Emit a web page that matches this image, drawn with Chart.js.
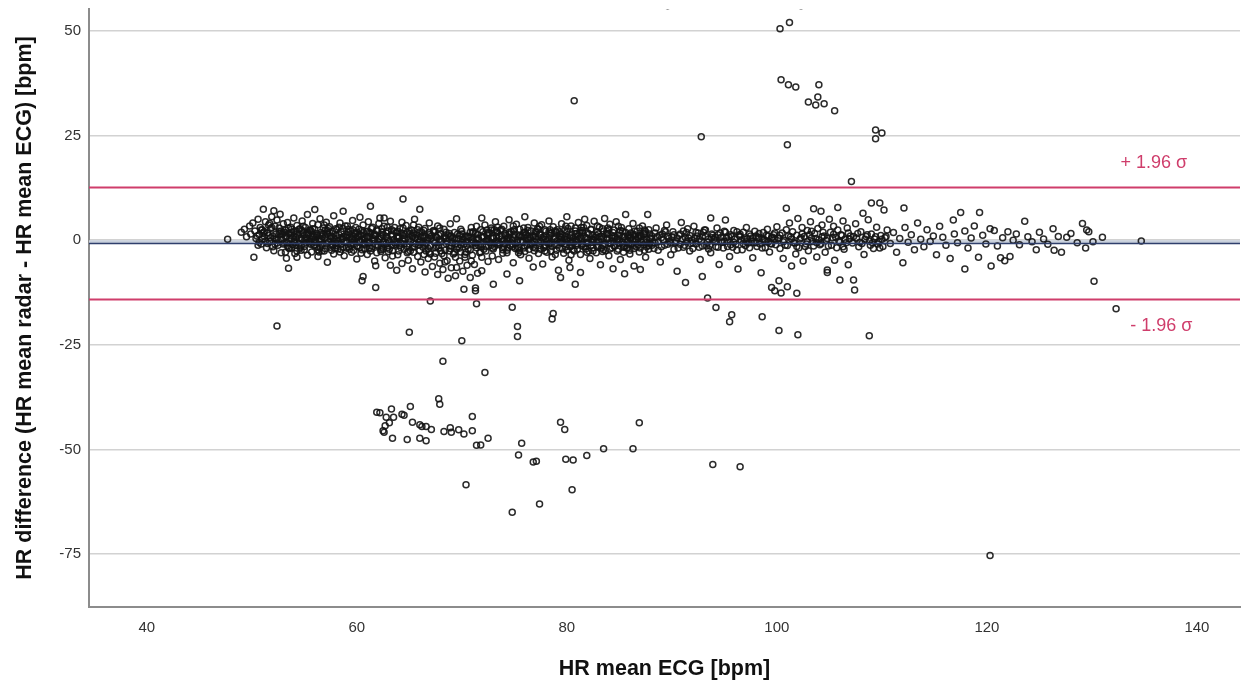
<!DOCTYPE html>
<html>
<head>
<meta charset="utf-8">
<title>Bland-Altman HR</title>
<script src="https://cdn.jsdelivr.net/npm/chart.js@4.4.1/dist/chart.umd.min.js"></script>
<style>
  html, body { margin: 0; padding: 0; background: #fff; }
  #plot { display: block; }
</style>
</head>
<body>
<canvas id="plot" width="1255" height="686"></canvas>
<script>
// axis ranges and ticks
const xMin = 34.5, xMax = 144.1;
const yMin = -87.6, yMax = 55.2;
const xTicks = [40, 60, 80, 100, 120, 140];
const yTicks = [-75, -50, -25, 0, 25, 50];

// agreement statistics
const meanDiff = -0.8;
const upperLimit = 12.6;
const lowerLimit = -14.2;
const limitLabels = ['+ 1.96 \u03c3', '- 1.96 \u03c3'];
const limitLabelX = [135.9, 136.6];

// measurements: [HR mean ECG, HR difference]
const bandLeft = [[47.7,0.2],[49.0,1.9],[49.3,2.6],[49.5,0.8],[49.8,3.4],[49.9,1.5],[50.1,4.1],[50.2,-4.1],[50.3,2.2],[50.4,0.4],[50.6,5.0],[50.7,1.3],[50.8,3.0],[50.9,-0.9],[51.0,2.5],[51.1,7.4],[51.2,0.9],[51.3,4.4],[51.4,-1.8],[51.5,1.7],[51.6,3.6],[51.7,-0.3],[51.8,2.8],[51.9,5.6],[52.0,1.0],[52.1,7.0],[52.1,-2.5],[52.2,3.3],[52.3,0.2],[52.4,4.8],[52.5,-1.2],[52.6,2.0],[52.7,6.2],[52.8,-3.0],[52.9,1.4],[53.0,3.9],
  [53.1,-0.6],[53.2,2.4],[53.3,-4.3],[53.3,0.9],[53.4,4.2],[53.5,-6.7],[53.5,1.6],[53.6,-2.0],[53.7,3.1],[53.8,0.3],[53.9,-1.1],[54.0,5.3],[54.0,2.0],[54.1,-3.2],[54.2,0.7],[54.3,-4.1],[54.3,3.5],[54.4,1.2],[54.5,-0.8],[54.6,2.7],[54.7,-2.4],[54.8,4.6],[54.8,0.1],[54.9,1.9],[55.0,-1.5],[55.1,3.0],[55.2,0.5],[55.3,-3.6],[55.3,6.1],[55.4,1.4],[55.5,-0.2],[55.6,2.3],[55.7,-2.8],[55.8,4.0],[55.8,0.8],[55.9,-1.3],[56.0,7.3],[56.0,2.6],[56.1,-0.5],[56.2,1.1],[56.3,-3.9],[56.3,3.7],[56.4,0.0],[56.5,5.1],[56.5,-1.9],[56.6,1.8],[56.7,-0.9],[56.8,2.9],[56.9,-2.6],[57.0,0.6],[57.1,4.3],[57.2,-5.3],[57.2,1.5],[57.3,-0.4],[57.4,3.2],[57.5,-1.7],[57.6,0.9],[57.7,2.1],[57.8,-3.3],[57.8,5.8],[57.9,0.2],[58.0,-0.7],[58.1,2.5],[58.2,-2.1],[58.3,1.3],[58.4,4.1],[58.5,-1.0],[58.6,0.4],[58.7,6.9],[58.7,2.8],[58.8,-3.7],[58.9,1.0],[59.0,-0.3],[59.1,3.4],[59.2,-1.6],[59.3,0.7],[59.4,2.2],[59.5,-2.9],[59.6,4.7],[59.6,0.1],[59.7,-0.9],[59.8,1.7],[59.9,3.0],[60.0,-4.5],[60.0,0.5],[60.1,-1.4],[60.2,2.6],[60.3,5.5],[60.3,-0.2],[60.4,1.2],[60.5,-9.7],[60.5,-2.3],[60.6,-8.7],[60.6,3.6],[60.7,0.3],[60.8,-1.1],[60.9,2.0],[61.0,-3.4],[61.1,4.4],[61.1,0.8],[61.2,-0.6],[61.3,8.1],[61.3,1.6],[61.4,-2.0],[61.5,3.1],[61.6,-0.1],[61.7,-5.0],[61.8,-11.3],[61.8,-6.1],[61.8,1.0],[61.9,2.4]];

const bandMid = [[62.0,-1.3],[62.1,4.0],[62.2,5.3],[62.2,0.4],[62.3,-2.7],[62.4,1.9],[62.5,-0.5],[62.6,5.3],[62.6,3.3],[62.7,-4.2],[62.8,0.9],[62.9,-1.8],[63.0,2.2],[63.1,-0.3],[63.2,-6.0],[63.2,4.5],[63.3,1.4],[63.4,-2.5],[63.5,0.1],[63.6,3.0],[63.7,-1.0],[63.8,-7.2],[63.8,1.8],[63.9,-3.5],[64.0,0.6],[64.1,2.7],[64.2,-0.8],[64.3,-5.6],[64.3,4.3],[64.4,9.8],[64.4,1.1],[64.5,-2.2],[64.6,0.2],[64.7,3.5],[64.8,-1.5],[64.9,-4.8],[65.0,1.6],[65.1,-0.4],[65.2,2.4],[65.3,-6.8],[65.3,0.8],[65.4,-2.9],[65.5,5.0],[65.6,-0.9],[65.7,1.3],[65.8,-3.9],[65.9,3.1],[66.0,7.4],[66.0,-0.2],[66.1,-5.2],[66.2,1.9],[66.3,-1.7],[66.4,0.5],[66.5,-7.6],[66.5,2.8],[66.6,-2.6],[66.7,0.0],[66.8,-4.4],[66.9,4.1],[67.0,-1.2],[67.1,1.0],[67.2,-6.3],[67.3,2.3],[67.4,-0.6],[67.5,-3.1],[67.6,0.7],[67.7,-8.2],[67.7,3.4],[67.8,-1.9],[67.9,-5.5],[68.0,1.5],[68.1,-0.3],[68.2,-7.0],[68.3,2.6],[68.4,-2.4],[68.5,0.4],[68.6,-4.9],[68.7,-9.1],[68.7,1.2],[68.8,-1.4],[68.9,3.9],[69.0,-6.6],[69.1,-0.7],[69.2,-3.3],[69.3,1.8],[69.4,-8.5],[69.5,5.1],[69.5,-6.5],[69.6,-1.6],[69.7,0.3],[69.8,-5.0],[69.9,-2.8],[70.0,2.1],[70.1,-7.4],[70.2,-11.7],[70.2,-0.9],[70.3,-4.1],[70.4,1.0],[70.5,-6.0],[70.6,-2.1],[70.7,0.6],[70.8,-8.9],[70.9,3.0],[71.0,-3.6],[71.1,-0.4],[71.2,-5.8],[71.3,-12.1],[71.3,-11.4],[71.3,1.6],[71.4,-1.8],[71.5,-7.9],[71.6,0.2],[71.7,-3.0],[71.8,2.5],[71.9,5.3],[71.9,-7.3],
  [72.0,-1.1],[72.1,0.8],[72.2,3.6],[72.3,-2.6],[72.4,0.1],[72.5,-5.1],[72.6,1.7],[72.7,-0.6],[72.8,2.9],[72.9,-3.8],[73.0,-10.5],[73.0,0.5],[73.1,-1.5],[73.2,4.4],[73.3,-0.2],[73.4,1.9],[73.5,-4.6],[73.6,-1.0],[73.7,2.4],[73.8,0.3],[73.9,-2.3],[74.0,3.3],[74.1,-0.8],[74.2,1.2],[74.3,-8.1],[74.3,-3.0],[74.4,0.6],[74.5,4.9],[74.6,-1.3],[74.7,2.0],[74.8,-0.1],[74.9,-5.4],[75.0,1.4],[75.1,-2.0],[75.2,3.8],[75.3,0.0],[75.4,-1.7],[75.5,-9.7],[75.5,2.6],[75.6,-3.5],[75.7,0.9],[75.8,-0.5],[75.9,1.8],[76.0,5.6],[76.0,-2.7],[76.1,0.4],[76.2,-1.2],[76.3,3.0],[76.4,-4.3],[76.5,0.7],[76.6,2.2],[76.7,-0.9],[76.8,-6.4],[76.8,1.1],[76.9,4.1],[77.0,-1.9],[77.1,0.2],[77.2,2.7],[77.3,-3.2],[77.4,1.5],[77.5,-0.3],[77.6,3.7],[77.7,-5.7],[77.8,0.8],[77.9,-1.4],[78.0,2.1],[78.1,-2.9],[78.2,0.1],[78.3,4.6],[78.4,-0.7],[78.5,1.6],[78.6,-4.0],[78.7,3.2],[78.8,-1.0],[78.9,0.5],[79.0,-2.4],[79.1,2.5],[79.2,-7.2],[79.3,0.9],[79.4,-8.9],[79.4,-0.4],[79.5,3.9],[79.6,1.3],[79.7,-3.1],[79.8,0.3],[79.9,-1.6],[80.0,5.6],[80.0,2.0],[80.1,-0.2],[80.2,-4.8],[80.3,-6.5],[80.3,1.1],[80.4,3.4],[80.5,-1.3],[80.6,0.6],[80.7,-2.6],[80.8,-10.5],[80.8,2.9],[80.9,0.0],[81.0,-0.9],[81.1,4.2],[81.2,1.7],[81.3,-7.7],[81.3,-3.4],[81.4,0.4],[81.5,2.3],[81.6,-1.5],[81.7,5.0],[81.7,0.8],[81.8,-2.1],[81.9,3.5],[82.0,-0.6],[82.1,1.4],[82.2,-4.4],[82.3,2.6],[82.4,0.1],[82.5,-1.8],[82.6,4.5],[82.7,0.7],[82.8,-3.0],[82.9,1.9],[83.0,-0.4],[83.1,3.1],[83.2,-5.9],[83.3,0.9],[83.4,-1.2],[83.5,2.2],[83.6,5.2],[83.7,-2.5],[83.8,0.3],[83.9,1.6],[84.0,-3.7],[84.1,3.8],[84.2,-0.8],[84.3,0.5],[84.4,-6.8],[84.5,2.4],[84.6,-1.4],[84.7,4.4],[84.8,0.2],[84.9,-2.2],[85.0,1.2],[85.1,-4.6],[85.2,3.0],[85.3,-0.5],[85.4,0.9],[85.5,-8.0],[85.6,6.1],[85.6,1.8],[85.7,-1.9],[85.8,0.0],[85.9,2.7],[86.0,-3.3],[86.1,0.7],[86.2,-0.9],[86.3,4.0],[86.4,-6.2],[86.5,1.3],[86.6,-1.6],[86.7,2.1],[86.8,0.4],[86.9,-2.8],[87.0,-7.0],[87.1,0.9],[87.2,3.4],[87.3,-1.1],[87.4,1.6],[87.5,-4.1],[87.6,0.1],[87.7,6.1],[87.8,2.5],[87.9,-0.7]];

const coreTight = [[50.5,1.0],[50.7,-0.5],[51.0,0.3],[51.2,2.0],[51.5,-0.8],[51.8,0.6],[52.0,-1.6],[52.3,1.5],[52.5,0.0],[52.8,2.2],[53.0,-0.9],[53.2,0.8],[53.5,-1.9],[53.7,1.2],[54.0,-0.3],[54.2,2.1],[54.5,0.5],[54.7,-1.4],[55.0,1.3],[55.2,-0.6],[55.5,2.4],[55.7,0.2],[56.0,-1.2],[56.2,1.6],[56.5,-0.3],[56.7,0.9],[57.0,-2.0],[57.2,2.3],[57.5,0.4],[57.7,-1.0],[58.0,1.1],[58.2,-0.2],[58.5,2.0],[58.7,-1.7],[59.0,0.7],[59.2,1.8],[59.5,-0.6],[59.7,0.9],[60.0,-1.5],[60.2,1.4],[60.5,0.1],[60.7,-0.8],[61.0,2.1],[61.2,-1.9],[61.5,0.6],[61.7,1.5],[62.0,-0.4],[62.3,0.9],[62.5,-2.1],[62.8,1.7],[63.0,0.0],[63.3,-1.1],[63.5,2.2],[63.8,-0.5],[64.0,1.0],[64.2,-1.8],[64.5,0.4],[64.8,1.9],[65.0,-0.9],[65.3,1.2],[65.5,-1.6],[65.8,0.3],[66.0,2.0],[66.3,-0.7],[66.5,0.9],[66.8,-2.0],[67.0,1.4],[67.3,-0.1],[67.5,0.8],[67.8,-1.3],[68.0,-2.5],[68.3,0.5],[68.5,-0.8],[68.8,1.6],[69.0,-1.4],[69.3,0.2],[69.5,-2.2],[69.8,1.1],[70.0,-0.5],[70.3,0.7],[70.5,-1.3],[70.8,1.9],[71.0,0.1],[71.3,-0.7],[71.5,1.3],[71.8,-1.6],[72.0,0.9],[72.3,-0.2],[72.5,1.8],[72.8,-1.2],[73.0,0.4],[73.3,2.2],[73.5,-0.6],[73.8,1.0],[74.0,-1.5],[74.3,0.2],[74.5,1.5],[74.8,-0.9],[75.0,0.6],[75.3,-2.0],[75.5,1.1],[75.8,-0.3],[76.0,1.9],[76.3,0.0],[76.5,-1.1],[76.8,0.8],[77.0,2.0],[77.3,-0.5],[77.5,1.2],[77.8,-1.8],[78.0,0.3],[78.3,-0.9],[78.5,1.7],[78.8,0.2],[79.0,-1.2],[79.3,2.0],[79.5,0.7],[79.8,-0.8],[80.0,0.1],[80.3,-1.6],[80.5,1.4],[80.8,-0.3],[81.0,0.9],[81.3,2.3],[81.5,-0.9],[81.8,0.5],[82.0,1.7],[82.3,-1.3],[82.5,0.2],[82.8,-0.4],[83.0,1.5],[83.3,-1.9],[83.5,0.6],[83.8,2.1],[84.0,-0.7],[84.3,1.0],[84.5,-1.4],[84.8,0.3],[85.0,1.9],[85.3,-0.9],[85.5,0.8],[85.8,-1.8],[86.0,0.5],[86.3,1.3],[86.5,-0.4],[86.8,-1.1],[87.0,1.0],[87.3,0.0],[87.5,2.0],[87.8,-1.3],[88.0,0.4],[88.4,-0.7],[88.8,1.2],[89.2,0.1],[89.6,-1.0],[90.0,0.8],[90.4,-0.3],[90.8,1.5],[91.2,-1.2],[91.6,0.5],[92.0,-0.6],[92.4,1.0],[92.8,-0.2],[93.2,0.9],[93.6,-1.3],[94.0,0.2],[94.4,1.3],[94.8,-0.5],[95.2,0.6],[95.6,-1.1],[96.0,0.3],[96.4,1.1],[96.8,-0.8],[97.2,0.4],[97.6,-0.2],[98.0,1.0],[98.4,-0.9],[98.8,0.1],[99.2,-0.4],[99.6,0.7],
  [100.1,0.5],[100.6,-0.4],[101.1,1.0],[101.7,-0.7],[102.3,0.6],[102.7,-1.5],[103.1,1.3],[103.4,-0.3],[103.7,0.4],[104.1,-1.1],[104.4,1.9],[104.7,-0.1],[105.3,0.6],[105.7,-1.8],[106.2,1.1],[106.6,-0.6],[106.9,0.3],[107.7,1.6],[108.1,-0.8],[108.4,0.2],[108.9,-1.2],[109.4,0.8],[109.7,-0.4],[110.0,0.2]];

const coreDense = [[50.9,2.4],[51.3,-0.2],[51.6,1.1],[51.9,3.0],[52.2,0.5],[52.4,-0.7],[52.6,2.9],[52.9,0.1],[53.1,1.9],[53.4,-1.4],[53.6,0.4],[53.8,2.6],[54.1,-0.6],[54.3,1.5],[54.6,-1.9],[54.8,2.3],[55.1,0.0],[55.3,1.8],[55.6,-1.0],[55.8,2.7],[56.1,0.7],[56.3,-2.3],[56.6,0.3],[56.8,1.4],[57.1,-0.9],[57.3,2.8],[57.6,-2.4],[57.8,0.6],[58.1,-1.3],[58.3,3.1],[58.6,0.2],[58.8,-0.5],[59.1,1.3],[59.3,-2.2],[59.6,2.5],[59.8,-0.1],[60.1,0.9],[60.3,-1.8],[60.6,1.9],[60.8,0.4],[61.1,-0.7],[61.3,-2.6],[61.6,1.2],[61.8,-1.1],[62.1,0.2],[62.4,2.7],[62.6,-1.0],[62.9,0.6],[63.1,-2.2],[63.4,1.0],[63.6,-0.6],[63.9,2.1],[64.1,-1.3],[64.4,-0.2],[64.6,1.4],[64.9,0.0],[65.1,-2.5],[65.4,1.7],[65.6,0.5],[65.9,-1.2],[66.1,0.8],[66.4,2.3],[66.6,-0.8],[66.9,-2.8],[67.1,0.4],[67.4,1.9],[67.6,-1.5],[67.9,0.2],[68.1,-3.2],[68.4,1.0],[68.6,-0.3],[68.9,-2.0],[69.1,0.6],[69.4,-0.9],[69.6,1.5],[69.9,-1.1],[70.1,0.2],[70.4,-2.9],[70.6,0.9],[70.9,-0.7],[71.1,2.0],[71.4,0.5],[71.6,-1.2],[71.9,0.7],[72.1,-2.2],[72.4,1.3],[72.6,-0.4],[72.9,0.8],[73.1,2.5],[73.4,-0.7],[73.6,0.9],[73.9,-1.8],[74.1,1.6],[74.4,-0.3],[74.6,0.4],[74.9,2.2],[75.1,-1.0],[75.4,0.8],[75.6,-0.2],[75.9,-1.9],[76.1,1.3],[76.4,0.3],[76.6,-0.6],[76.9,-2.5],[77.1,1.8],[77.4,-1.3],[77.6,0.6],[77.9,2.5],[78.1,-0.4],[78.4,1.1],[78.6,-1.5],[78.9,2.2],[79.1,-0.1],[79.4,1.5],[79.6,-2.1],[79.9,0.9],[80.1,2.8],[80.4,-0.6],[80.6,-2.3],[80.9,1.6],[81.1,0.1],[81.4,-1.3],[81.6,3.0],[81.9,-0.7],[82.1,-2.6],[82.4,1.2],[82.6,0.0],[82.9,-1.6],[83.1,0.8],[83.4,2.7],[83.6,-0.9],[83.9,0.4],[84.1,-2.1],[84.4,1.8],[84.6,0.6],[84.9,-0.6],[85.1,2.3],[85.4,-1.7],[85.6,0.1],[85.9,-0.8],[86.1,1.7],[86.4,-2.0],[86.6,0.3],[86.9,1.1],[87.1,-0.5],[87.4,2.4],[87.6,-1.6],[87.9,0.6],
  [50.6,-1.2],[51.1,1.7],[51.7,4.0],[52.2,-0.9],[52.7,1.6],[53.2,-2.9],[53.8,1.9],[54.3,-2.6],[54.9,3.3],[55.4,-0.3],[55.9,1.0],[56.4,-2.8],[56.9,3.6],[57.4,1.9],[57.9,-1.9],[58.4,-2.8],[58.9,3.4],[59.4,-1.2],[59.9,1.6],[60.4,-3.1],[60.9,-0.3],[61.4,2.8],[61.9,-3.0],[62.4,-1.7],[62.9,3.1],[63.4,-3.8],[63.9,0.8],[64.4,2.9],[64.9,-2.7],[65.4,3.6],[65.9,-0.5],[66.4,-3.4],[66.9,1.8],[67.4,-4.0],[67.9,2.9],[68.4,-5.2],[68.9,0.8],[69.4,-4.1],[69.9,2.6],[70.4,-0.4],[70.9,-5.0],[71.4,3.3],[71.9,-4.1],[72.4,2.4],[72.9,-1.9],[73.4,3.1],[73.9,-3.1],[74.4,-1.9],[74.9,3.4],[75.4,-3.0],[75.9,2.9],[76.4,-2.2],[76.9,-0.3],[77.4,3.3],[77.9,-2.6],[78.4,2.5],[78.9,-3.4],[79.4,0.3],[79.9,3.3],[80.4,-3.5],[80.9,-1.3],[81.4,3.0],[81.9,-2.9],[82.4,-0.5],[82.9,3.4],[83.4,-2.7],[83.9,2.9],[84.4,-0.2],[84.9,3.3],[85.4,-2.9],[85.9,1.2],[86.4,-1.2],[86.9,2.9],[87.4,-2.4],[87.9,1.5],
  [88.2,-0.6],[88.6,0.8],[89.0,-1.6],[89.4,2.0],[89.8,-0.2],[90.2,1.3],[90.6,-1.9],[91.0,0.3],[91.4,1.8],[91.8,-0.8],[92.2,0.4],[92.6,-1.7],[93.0,1.9],[93.4,-0.5],[93.8,0.6],[94.2,-1.6],[94.6,1.7],[95.0,-0.3],[95.4,0.8],[95.8,-1.7],[96.2,2.0],[96.6,0.0],[97.0,-1.3],[97.4,1.5],[97.8,-0.6],[98.2,0.7],[98.6,-1.9],[99.0,1.2],[99.4,-0.8],[99.8,0.2]];

const coreExtra = [[53.0,1.6],[53.3,-0.5],[53.5,2.9],[53.8,-1.8],[54.0,0.9],[54.2,-1.2],[54.5,2.6],[54.7,0.4],[55.0,-2.3],[55.2,1.5],[55.5,-0.7],[55.7,2.0],[56.0,0.1],[56.2,-1.6],[56.5,1.3],[56.7,-2.5],[57.0,2.4],[57.2,-0.1],[57.5,1.0],[57.7,-1.4],[58.0,2.7],[58.2,0.5],[58.5,-2.2],[58.7,0.8],[59.0,-1.9],[59.2,2.6],[59.5,0.3],[59.7,-2.4],[60.0,1.9],[60.2,-0.4],[60.5,2.3],[60.7,-2.0],[61.0,0.7],[61.2,1.8],[61.5,-1.5],[61.7,0.0],[62.0,2.2],[62.3,-2.3],[62.5,1.2],[62.8,-0.8],[63.0,-2.7],[63.3,2.5],[63.5,-1.3],[63.8,0.9],[64.0,-2.6],[64.2,1.7],[64.5,-0.9],[64.8,-3.0],[65.0,2.1],[65.3,-1.7],[65.5,0.6],[65.8,2.5],[66.0,-2.4],[66.3,1.1],[66.5,-1.2],[66.8,0.5],[67.0,-3.3],[67.3,2.1],[67.5,-1.8],[67.8,1.2],[68.0,-0.2],[68.3,-3.7],[68.5,1.9],[68.8,-2.6],[69.0,1.0],[69.3,-3.0],[69.5,0.4],[69.8,-1.9],[70.0,1.5],[70.3,-3.4],[70.5,0.9],[70.8,-2.3],[71.0,1.8],[71.3,-1.3],[71.5,0.3],[71.8,-2.8],[72.0,2.0],[72.3,-1.6],[72.5,0.2],[72.8,2.4],[73.0,-2.1],[73.3,0.9],[73.5,-1.1],[73.8,2.6],[74.0,0.1],[74.3,-2.4],[74.5,1.9],[74.8,-1.6],[75.0,2.5],[75.3,-0.5],[75.5,-2.5],[75.8,1.2],[76.0,-1.4],[76.3,2.3],[76.5,0.5],[76.8,-1.7],[77.0,0.9],[77.3,2.6],[77.5,-2.2],[77.8,0.2],[78.0,-1.2],[78.3,2.0],[78.5,-2.6],[78.8,0.9],[79.0,1.8],[79.3,-1.9],[79.5,-0.6],[79.8,2.4],[80.0,-2.4],[80.3,0.6],[80.5,-0.4],[80.8,2.2],[81.0,-2.2],[81.3,0.7],[81.5,1.8],[81.8,-1.5],[82.0,0.4],[82.3,2.5],[82.5,-2.5],[82.8,1.1],[83.0,-1.3],[83.3,0.3],[83.5,-2.3],[83.8,1.4],[84.0,2.5],[84.3,-1.8],[84.5,0.9],[84.8,-2.6],[85.0,0.0],[85.3,2.1],[85.5,-1.4],[85.8,1.0],[86.0,-2.4],[86.3,-0.2],[86.5,2.2],[86.8,0.8],[87.0,-1.9],[87.3,1.5],[87.5,-0.6],[87.8,-2.2],
  [88.1,-1.2],[88.4,1.7],[88.7,-2.4],[89.0,0.6],[89.3,2.3],[89.6,0.9],[89.9,-0.6],[90.2,-2.2],[90.5,0.5],[90.8,-1.0],[91.1,2.2],[91.4,-0.3],[91.7,1.1],[92.0,-2.0],[92.3,1.8],[92.6,0.2],[92.9,-1.4],[93.2,2.4],[93.5,-2.1],[93.8,1.5],[94.1,0.7],[94.4,-1.7],[94.7,-0.2],[95.0,2.1],[95.3,-1.5],[95.6,1.3],[95.9,-0.5],[96.2,-2.4],[96.5,0.9],[96.8,1.9],[97.1,-0.4],[97.4,-1.8],[97.7,0.6],[98.0,-0.6],[98.3,1.6],[98.6,0.2],[98.9,-1.8],[99.2,1.0],[99.5,-0.9],[99.8,1.7],
  [100.3,1.2],[100.8,-1.2],[101.4,0.3],[101.9,-1.5],[102.4,1.5],[102.9,-0.4],[103.3,2.1],[103.8,-0.6],[104.3,0.8],[104.9,-1.4],[105.4,1.4],[105.9,-0.2],[106.3,-1.6],[106.8,1.7],[107.3,0.9],[107.9,-0.5],[108.6,1.3],[109.1,-0.6],[109.8,-1.9],[110.4,0.9]];

const bandRight = [[88.1,1.0],[88.3,-2.0],[88.5,2.9],[88.7,-0.3],[88.9,-5.2],[89.1,1.5],[89.3,-1.2],[89.5,3.6],[89.7,0.4],[89.9,-3.5],[90.1,2.0],[90.3,-0.6],[90.5,-7.4],[90.7,1.1],[90.9,4.2],[91.1,-1.7],[91.3,-10.1],[91.3,0.6],[91.5,2.7],[91.7,-2.6],[91.9,0.0],[92.1,3.3],[92.3,-0.9],[92.5,1.7],[92.7,-4.6],[92.9,-8.7],[92.9,0.8],[93.1,2.4],[93.3,-1.4],[93.5,0.3],[93.7,5.3],[93.7,-3.0],[93.9,1.2],[94.1,-0.4],[94.3,2.9],[94.5,-5.8],[94.7,0.7],[94.9,-1.9],[95.1,4.8],[95.1,1.9],[95.3,-0.2],[95.5,-3.9],[95.7,0.9],[95.9,2.3],[96.1,-1.0],[96.3,-6.9],[96.5,1.4],[96.7,-2.3],[96.9,0.2],[97.1,3.0],[97.3,-0.7],[97.5,1.0],[97.7,-4.2],[97.9,2.1],[98.1,-1.5],[98.3,0.5],[98.5,-7.8],[98.7,1.8],[98.9,-0.3],[99.1,2.6],[99.3,-2.8],[99.5,-11.3],[99.5,0.6],[99.7,1.3],[99.8,-12.1],[99.9,-1.1],
  [100.0,3.2],[100.2,-9.7],[100.2,0.4],[100.3,-2.0],[100.4,-12.6],[100.5,1.7],[100.6,-4.4],[100.7,0.0],[100.9,7.6],[100.9,2.5],[101.0,-11.1],[101.0,-1.3],[101.2,4.1],[101.3,0.8],[101.4,-6.2],[101.5,2.0],[101.6,-0.6],[101.8,-3.3],[101.9,-12.7],[101.9,1.2],[102.0,5.2],[102.1,-1.8],[102.2,0.3],[102.4,3.0],[102.5,-5.0],[102.6,0.9],[102.8,-0.9],[102.9,2.3],[103.0,-2.5],[103.2,4.4],[103.3,0.5],[103.5,7.5],[103.5,-1.4],[103.6,1.6],[103.8,-4.0],[103.9,2.8],[104.0,0.1],[104.2,6.9],[104.2,-0.8],[104.3,3.6],[104.5,1.0],[104.6,-2.9],[104.8,-7.1],[104.8,-7.7],[104.8,0.4],[105.0,5.0],[105.1,1.9],[105.2,-1.2],[105.4,3.3],[105.5,-4.8],[105.6,0.7],[105.8,7.8],[105.8,2.4],[106.0,-9.5],[106.0,-0.5],[106.1,1.3],[106.3,4.6],[106.4,-2.2],[106.5,0.2],[106.7,2.9],[106.8,-5.9],[107.0,1.0],[107.1,14.0],[107.2,-0.7],[107.3,-9.5],[107.4,-11.9],[107.5,3.9],[107.6,0.5],[107.8,-1.6],[108.0,2.0],[108.2,6.4],[108.3,-3.4],[108.5,0.9],[108.7,4.9],[108.8,-0.2],[109.0,8.9],[109.0,1.5],[109.2,-2.0],[109.3,0.3],[109.5,3.1],[109.6,-0.9],[109.8,8.9],[109.9,1.1],[110.1,-1.5],[110.2,7.2],[110.3,0.6],[110.5,2.4]];

const bandTail = [[110.8,-0.8],[111.1,1.8],[111.4,-2.9],[111.7,0.4],[112.0,-5.4],[112.1,7.7],[112.2,3.0],[112.5,-0.5],[112.8,1.3],[113.1,-2.3],[113.4,4.1],[113.7,0.2],[114.0,-1.6],[114.3,2.5],[114.6,-0.3],[114.9,1.0],[115.2,-3.5],[115.5,3.3],[115.8,0.7],[116.1,-1.2],[116.5,-4.4],[116.8,4.8],[116.9,1.5],[117.2,-0.6],[117.5,6.6],[117.9,-6.9],[117.9,2.2],[118.2,-1.9],[118.5,0.5],[118.8,3.4],[119.2,-4.1],[119.3,6.6],[119.6,1.2],[119.9,-0.9],[120.3,2.7],[120.4,-6.2],[120.7,2.3],[121.0,-1.4],[121.3,-4.2],[121.5,0.6],[121.7,-4.9],[122.0,2.0],[122.2,-3.9],[122.5,0.0],[122.8,1.5],[123.1,-1.1],[123.6,4.5],[123.9,0.8],[124.3,-0.4],[124.7,-2.3],[125.0,1.9],[125.4,0.3],[125.8,-1.0],[126.3,2.7],[126.4,-2.4],[126.8,0.9],[127.1,-2.9],[127.6,0.7],[128.0,1.6],[128.6,-0.6],[129.1,4.0],[129.4,-1.9],[129.5,2.4],[129.7,2.0],[130.1,-0.4],[130.2,-9.8],[131.0,0.7],[132.3,-16.4],[134.7,-0.2]];

const highOutliers = [[80.7,33.3],[89.6,56.0],[102.3,56.0],[92.8,24.7],[100.3,50.5],[101.2,52.0],[100.4,38.3],[101.1,37.1],[101.8,36.6],[104.0,37.1],[103.9,34.2],[103.0,33.0],[103.7,32.3],[104.5,32.6],[105.5,30.9],[101.0,22.8],[109.4,26.3],[110.0,25.6],[109.4,24.2]];

const lowOutliers = [[52.4,-20.5],[67.0,-14.5],[71.4,-15.2],[65.0,-22.0],[70.0,-24.0],[68.2,-28.9],[70.4,-58.4],[71.0,-42.1],[71.0,-45.5],[71.4,-49.0],[61.9,-41.1],[62.2,-41.2],[63.3,-40.3],[62.8,-42.3],[63.5,-42.3],[63.1,-43.6],[62.7,-44.3],[62.5,-45.5],[62.6,-45.9],[64.3,-41.6],[64.5,-41.8],[65.1,-39.7],[65.3,-43.5],[66.0,-44.1],[66.2,-44.5],[66.6,-44.5],[67.1,-45.2],[63.4,-47.3],[64.8,-47.6],[66.0,-47.3],[66.6,-47.9],[67.8,-37.9],[67.9,-39.2],[68.3,-45.7],[68.9,-44.8],[69.0,-45.9],[69.7,-45.3],[70.2,-46.3],[74.8,-16.0],[78.7,-17.5],[78.6,-18.8],[75.3,-20.6],[75.3,-23.0],[72.2,-31.6],[72.5,-47.3],[71.8,-48.9],[75.7,-48.5],[75.4,-51.3],[76.8,-53.0],[77.1,-52.8],[79.4,-43.5],[79.8,-45.2],[79.9,-52.3],[80.6,-52.5],[81.9,-51.4],[83.5,-49.8],[86.3,-49.8],[86.9,-43.6],[80.5,-59.6],[74.8,-65.0],[77.4,-63.0],[93.4,-13.8],[94.2,-16.1],[95.5,-19.5],[95.7,-17.8],[98.6,-18.3],[100.2,-21.6],[102.0,-22.6],[108.8,-22.8],[93.9,-53.6],[96.5,-54.1],[120.3,-75.3]];

const measurements = [].concat(bandLeft, bandMid, coreTight, coreDense, coreExtra, bandRight, bandTail, highOutliers, lowOutliers)
  .map(p => ({ x: p[0], y: p[1] }));

function hLine(y) {
  return [{ x: xMin, y: y }, { x: xMax, y: y }];
}

const limitColor = '#cf3d6b';
const fontFamily = '"Liberation Sans", Arial, sans-serif';

// text next to the limit-of-agreement lines
const limitTextPlugin = {
  id: 'limitText',
  afterDatasetsDraw(chart) {
    const ctx = chart.ctx;
    const xs = chart.scales.x, ys = chart.scales.y;
    ctx.save();
    ctx.fillStyle = limitColor;
    ctx.font = '18px ' + fontFamily;
    ctx.textAlign = 'center';
    ctx.textBaseline = 'middle';
    ctx.fillText(limitLabels[0], xs.getPixelForValue(limitLabelX[0]), ys.getPixelForValue(upperLimit) - 24);
    ctx.fillText(limitLabels[1], xs.getPixelForValue(limitLabelX[1]), ys.getPixelForValue(lowerLimit) + 26);
    ctx.restore();
  }
};

new Chart(document.getElementById('plot'), {
  type: 'scatter',
  data: {
    datasets: [
      {
        // shaded strip between zero and the mean difference, behind the points
        type: 'line',
        data: hLine(meanDiff),
        borderWidth: 0,
        backgroundColor: '#c8d0dc',
        fill: 'origin',
        pointRadius: 0,
        order: 3
      },
      {
        type: 'line',
        data: hLine(meanDiff),
        borderColor: '#2f3f6c',
        borderWidth: 1.5,
        pointRadius: 0,
        fill: false,
        order: 0
      },
      {
        type: 'line',
        data: hLine(upperLimit),
        borderColor: limitColor,
        borderWidth: 2,
        pointRadius: 0,
        fill: false,
        order: 0
      },
      {
        type: 'line',
        data: hLine(lowerLimit),
        borderColor: limitColor,
        borderWidth: 2,
        pointRadius: 0,
        fill: false,
        order: 0
      },
      {
        data: measurements,
        pointRadius: 3,
        pointHoverRadius: 3,
        pointBorderWidth: 1.5,
        pointBorderColor: 'rgba(20,20,20,0.9)',
        pointBackgroundColor: 'rgba(0,0,0,0)',
        order: 1
      }
    ]
  },
  options: {
    responsive: false,
    animation: false,
    events: [],
    layout: { padding: { top: 0, right: 15, left: 0, bottom: 0 } },
    plugins: {
      legend: { display: false },
      tooltip: { enabled: false }
    },
    scales: {
      x: {
        type: 'linear',
        min: xMin,
        max: xMax,
        afterBuildTicks: s => { s.ticks = xTicks.map(v => ({ value: v })); },
        afterFit: s => { s.height = 79; },
        grid: { display: false, drawTicks: false },
        border: { display: true, color: '#8c8c8c', width: 2 },
        ticks: { padding: 12, color: '#333', font: { family: fontFamily, size: 15 }, maxRotation: 0 },
        title: {
          display: true,
          text: 'HR mean ECG [bpm]',
          color: '#111',
          font: { family: fontFamily, size: 21.5, weight: 'bold' },
          padding: { top: 0, bottom: 4 }
        }
      },
      y: {
        type: 'linear',
        min: yMin,
        max: yMax,
        afterBuildTicks: s => { s.ticks = yTicks.map(v => ({ value: v })); },
        afterFit: s => { s.width = 89; s.paddingTop = 9; s.paddingBottom = 0; },
        grid: { color: '#d2d2d2', lineWidth: 1.5, drawTicks: false },
        border: { display: true, color: '#8c8c8c', width: 2 },
        ticks: { padding: 8, color: '#333', font: { family: fontFamily, size: 15 } },
        title: {
          display: true,
          text: 'HR difference (HR mean radar - HR mean ECG) [bpm]',
          color: '#111',
          font: { family: fontFamily, size: 21.5, weight: 'bold' },
          padding: { top: 12, bottom: 0 }
        }
      }
    }
  },
  plugins: [limitTextPlugin]
});
</script>
</body>
</html>
